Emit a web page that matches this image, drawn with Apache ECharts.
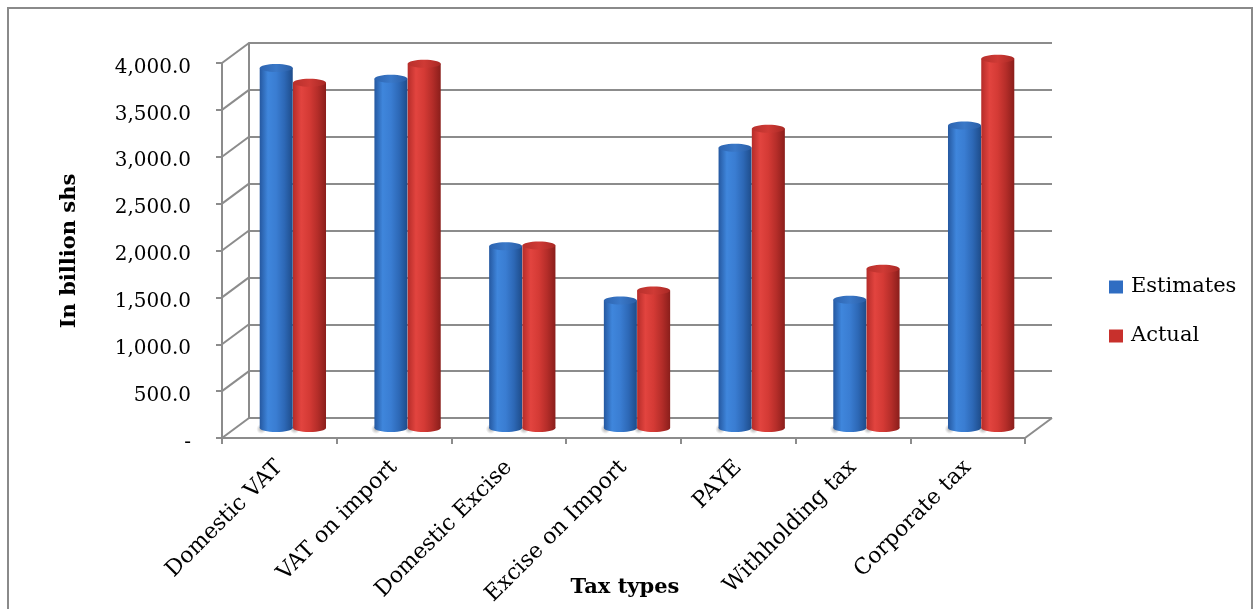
<!DOCTYPE html>
<html>
<head>
<meta charset="utf-8">
<script src="https://cdn.jsdelivr.net/npm/echarts@6/dist/echarts.min.js"></script>
<style>
  html, body { margin: 0; padding: 0; background: #fff; }
  #chart { width: 1254px; height: 609px; }
</style>
</head>
<body>
<div id="chart"></div>
<script>
// Tax collections by type, in billion shillings
const categories = ['Domestic VAT', 'VAT on import', 'Domestic Excise', 'Excise on Import', 'PAYE', 'Withholding tax', 'Corporate tax'];
const estimates = [3840, 3725, 1940, 1360, 2990, 1367, 3227];
const actual = [3682, 3885, 1947, 1467, 3191, 1698, 3938];
const yTicks = [0, 500, 1000, 1500, 2000, 2500, 3000, 3500, 4000];

const FONT = 'DejaVu Serif';
const LINE = '#8c8c8c';
// The plot is drawn as a box: front plane (axes), back wall (gridlines), bars half-way between
const DEPTH = [27, -20];
const FRONT = { left: 222, top: 63, width: 803, height: 375 };
function plane(f) {
  return { left: FRONT.left + DEPTH[0] * f, top: FRONT.top + DEPTH[1] * f, width: FRONT.width, height: FRONT.height };
}

const chart = echarts.init(document.getElementById('chart'), null, { renderer: 'canvas' });
const G = echarts.graphic;

function hGrad(stops) {
  return new G.LinearGradient(0, 0, 1, 0, stops.map((c, i) => ({ offset: i / (stops.length - 1), color: c })));
}
const blueBody = ['#2558a0', '#3f86dc', '#3a7dd2', '#2d68b6', '#1e4c8a'];
const blueTop = ['#2d64b0', '#3a78c8', '#2a5ea6'];
const redBody = ['#b52c29', '#e2443f', '#d43a35', '#b42d29', '#8a1e1b'];
const redTop = ['#b8302c', '#cf3a35', '#a82824'];

function cylinder(offset, body, top) {
  return function (params, api) {
    const i = api.value(0);
    const v = api.value(1);
    const band = api.size([1, 0])[0];
    const w = band * 0.288;
    const t = api.coord([i, v]);
    const b = api.coord([i, 0]);
    const cx = t[0] + offset * band;
    const ry = 4;
    return {
      type: 'group',
      children: [
        {
          type: 'ellipse', z2: -5,
          shape: { cx: cx - w * 0.45, cy: b[1] + 1, rx: w * 0.75, ry: 5 },
          style: { fill: new G.RadialGradient(0.5, 0.5, 0.5, [
            { offset: 0, color: 'rgba(90,90,90,0.55)' },
            { offset: 1, color: 'rgba(120,120,120,0)' }]) }
        },
        { type: 'rect', shape: { x: cx - w / 2, y: t[1], width: w, height: b[1] - t[1] }, style: { fill: hGrad(body) } },
        { type: 'ellipse', shape: { cx: cx, cy: b[1], rx: w / 2, ry: ry }, style: { fill: hGrad(body) } },
        { type: 'ellipse', shape: { cx: cx, cy: t[1], rx: w / 2, ry: ry }, style: { fill: hGrad(top) } }
      ]
    };
  };
}

const valueAxis = (idx, extra) => Object.assign({
  type: 'value', gridIndex: idx, min: 0, max: 4000, interval: 500,
  axisLabel: { show: false }, axisTick: { show: false }, axisLine: { show: false }, splitLine: { show: false }
}, extra);
const catAxis = (idx, extra) => Object.assign({
  type: 'category', gridIndex: idx, data: categories,
  axisLabel: { show: false }, axisTick: { show: false }, axisLine: { show: false }, splitLine: { show: false }
}, extra);

function tickText(v) {
  const s = v === 0 ? '-' : v.toLocaleString('en-US', { minimumFractionDigits: 1, maximumFractionDigits: 1 });
  return '{v|' + s + '}';
}

const option = {
  backgroundColor: '#fff',
  animation: false,
  grid: [plane(1), plane(0.5), plane(0)],
  xAxis: [
    catAxis(0),
    catAxis(1),
    catAxis(2, {
      axisLine: { show: true, lineStyle: { color: LINE, width: 2 } },
      axisTick: { show: true, length: 6, lineStyle: { color: LINE, width: 2 } },
      axisLabel: { show: true, rotate: 45, margin: 26, color: '#000', fontFamily: FONT, fontSize: 22 }
    })
  ],
  yAxis: [
    valueAxis(0, {
      axisLine: { show: true, lineStyle: { color: LINE, width: 2 } },
      splitLine: { show: true, lineStyle: { color: LINE, width: 2 } }
    }),
    valueAxis(1),
    valueAxis(2, {
      axisLine: { show: true, lineStyle: { color: LINE, width: 2 } },
      axisTick: { show: true, length: 6, lineStyle: { color: LINE, width: 2 } },
      axisLabel: {
        show: true, margin: 31, formatter: tickText,
        rich: { v: { color: '#000', fontFamily: FONT, fontSize: 20, padding: [9, 0, 0, 0] } }
      }
    })
  ],
  legend: {
    data: ['Estimates', 'Actual'],
    orient: 'vertical', left: 1104, top: 270,
    icon: 'rect', itemWidth: 14, itemHeight: 13, itemGap: 25,
    textStyle: { fontFamily: FONT, fontSize: 21, color: '#000', lineHeight: 24, padding: [0, 0, 0, 3] }
  },
  graphic: [
    { type: 'rect', shape: { x: 8, y: 8, width: 1244, height: 640 }, style: { fill: 'none', stroke: '#8a8a8a', lineWidth: 2 }, silent: true },
    { type: 'text', x: 70, y: 251, rotation: Math.PI / 2, style: { text: 'In billion shs', font: 'bold 21px "DejaVu Serif"', fill: '#000', align: 'center', verticalAlign: 'middle' } },
    { type: 'text', x: 625, y: 588, style: { text: 'Tax types', font: 'bold 21px "DejaVu Serif"', fill: '#000', align: 'center', verticalAlign: 'middle' } }
  ],
  series: [
    // side wall and floor edges joining the front axis to the back wall
    {
      type: 'custom', name: 'walls', xAxisIndex: 2, yAxisIndex: 2, silent: true, z: 1,
      data: yTicks.map(v => [0, v]),
      renderItem: function (params, api) {
        const cs = params.coordSys;
        const p = api.coord([0, api.value(1)]);
        const children = [{
          type: 'line',
          shape: { x1: cs.x, y1: p[1], x2: cs.x + DEPTH[0], y2: p[1] + DEPTH[1] },
          style: { stroke: LINE, lineWidth: 2 }
        }];
        if (api.value(1) === 0) {
          children.push({
            type: 'line',
            shape: { x1: cs.x + cs.width, y1: p[1], x2: cs.x + cs.width + DEPTH[0], y2: p[1] + DEPTH[1] },
            style: { stroke: LINE, lineWidth: 2 }
          });
        }
        return { type: 'group', children: children };
      }
    },
    {
      type: 'custom', name: 'Estimates', xAxisIndex: 1, yAxisIndex: 1,
      itemStyle: { color: '#2f6dc2' },
      data: estimates.map((v, i) => [i, v]),
      renderItem: cylinder(-0.145, blueBody, blueTop)
    },
    {
      type: 'custom', name: 'Actual', xAxisIndex: 1, yAxisIndex: 1,
      itemStyle: { color: '#c8302c' },
      data: actual.map((v, i) => [i, v]),
      renderItem: cylinder(0.145, redBody, redTop)
    }
  ]
};
chart.setOption(option);
</script>
</body>
</html>
